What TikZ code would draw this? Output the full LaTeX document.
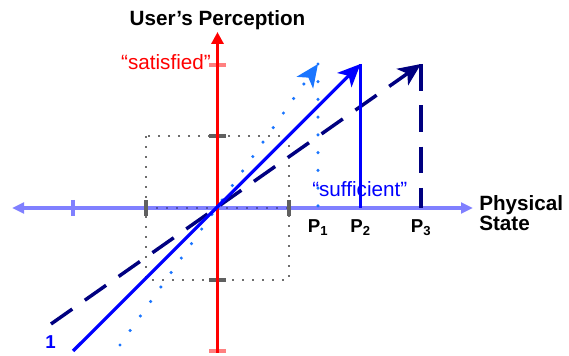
\documentclass[tikz,border=0pt]{standalone}
\usepackage{fontspec}
\setmainfont{Liberation Sans}
\usetikzlibrary{arrows.meta}
\definecolor{axisblue}{RGB}{128,128,255}
\definecolor{softred}{RGB}{255,128,128}
\definecolor{navy}{RGB}{0,0,128}
\definecolor{skyblue}{RGB}{26,117,255}
\definecolor{tickgray}{RGB}{96,96,96}
\definecolor{dotgray}{RGB}{110,110,110}
\definecolor{axisdots}{RGB}{80,80,170}

\begin{document}
\begin{tikzpicture}[
  x=0.75pt, y=-0.75pt,
  axis/.style={line width=2.9pt},
  tickmark/.style={line width=3.2pt},
  head/.style={-{Stealth[length=17pt,width=15pt,inset=4.5pt]}},
  box/.style={draw=dotgray, line width=1.5pt, dash pattern=on 1.5pt off 6pt},
  lbl/.style={font=\fontsize{15.5}{15}\selectfont, inner sep=0pt},
  plbl/.style={font=\bfseries\fontsize{14}{16}\selectfont, inner sep=0pt, anchor=base},
]
  \useasboundingbox (0,0) rectangle (569,356);

  % anchor points
  \coordinate (O) at (217.5,208);
  \coordinate (xl) at (12,208);
  \coordinate (xr) at (473,208);
  \coordinate (yb) at (217.5,353);
  \coordinate (yt) at (217.5,32);
  \coordinate (sq1) at (146,136);
  \coordinate (sq2) at (289,280);
  \coordinate (s0) at (73,351);
  \coordinate (s1) at (360.5,64);
  \coordinate (p2) at (360.5,208);
  \coordinate (d0) at (51,324);
  \coordinate (d1) at (421,64);
  \coordinate (p3) at (421,208);
  \coordinate (t0) at (120,345);
  \coordinate (t1) at (318,64);
  \coordinate (p1) at (318,208);

  % dotted square
  \draw[box] (sq1) rectangle (sq2);

  % axes
  \draw[axis, axisblue, {Triangle[length=9pt,width=8pt]}-{Triangle[length=9pt,width=8pt]}] (xl) -- (xr);
  \draw[box, draw=axisdots] (sq1 |- O) -- (sq2 |- O);
  \draw[tickmark, axisblue] (73,200) -- (73,216);
  \draw[tickmark, tickgray] (146,200) -- (146,216);
  \draw[tickmark, tickgray] (289,200) -- (289,216);
  \draw[tickmark, tickgray] (209,136) -- (226,136);
  \draw[tickmark, tickgray] (209,280) -- (226,280);
  \draw[tickmark, softred] (209,65) -- (226,65);
  \draw[tickmark, softred] (209,351) -- (226,351);
  \draw[line width=2.8pt, red, -{Triangle[length=9pt,width=9pt]}] (yb) -- (yt);

  % labels
  \node[lbl, font=\bfseries\fontsize{15.5}{15}\selectfont, anchor=base] (perc) at (217.5,26) {User’s Perception};
  \node[lbl, align=left, anchor=north west, font=\bfseries\fontsize{15.5}{15}\selectfont] (phys) at (479,195) {Physical\\State};
  \node[lbl, red, anchor=base east] (sat) at (211,70) {“satisfied”};
  \node[lbl, blue, anchor=base west] (suf) at (312,197) {“sufficient”};
  \node[plbl] (lp1) at (318,233) {P\textsubscript{\bfseries 1}};
  \node[plbl] (lp2) at (360.5,233) {P\textsubscript{\bfseries 2}};
  \node[plbl] (lp3) at (421,233) {P\textsubscript{\bfseries 3}};
  \node[plbl, blue] (one) at (50.5,349) {1};

  % response curves
  \draw[skyblue, line width=2.6pt, line cap=round, dash pattern=on 0pt off 13.3pt] (t1) -- (p1);
  \draw[skyblue, line width=2.6pt, line cap=round, dash pattern=on 0pt off 13.3pt, head] (t0) -- (t1);
  \draw[navy, line width=2.6pt, dash pattern=on 20pt off 11pt] (d1) -- (p3);
  \draw[navy, line width=2.6pt, dash pattern=on 19.5pt off 11.5pt, head] (d0) -- (d1);
  \draw[blue, line width=2.4pt] (s1) -- (p2);
  \draw[blue, line width=2.4pt, head] (s0) -- (s1);
\end{tikzpicture}
\end{document}
